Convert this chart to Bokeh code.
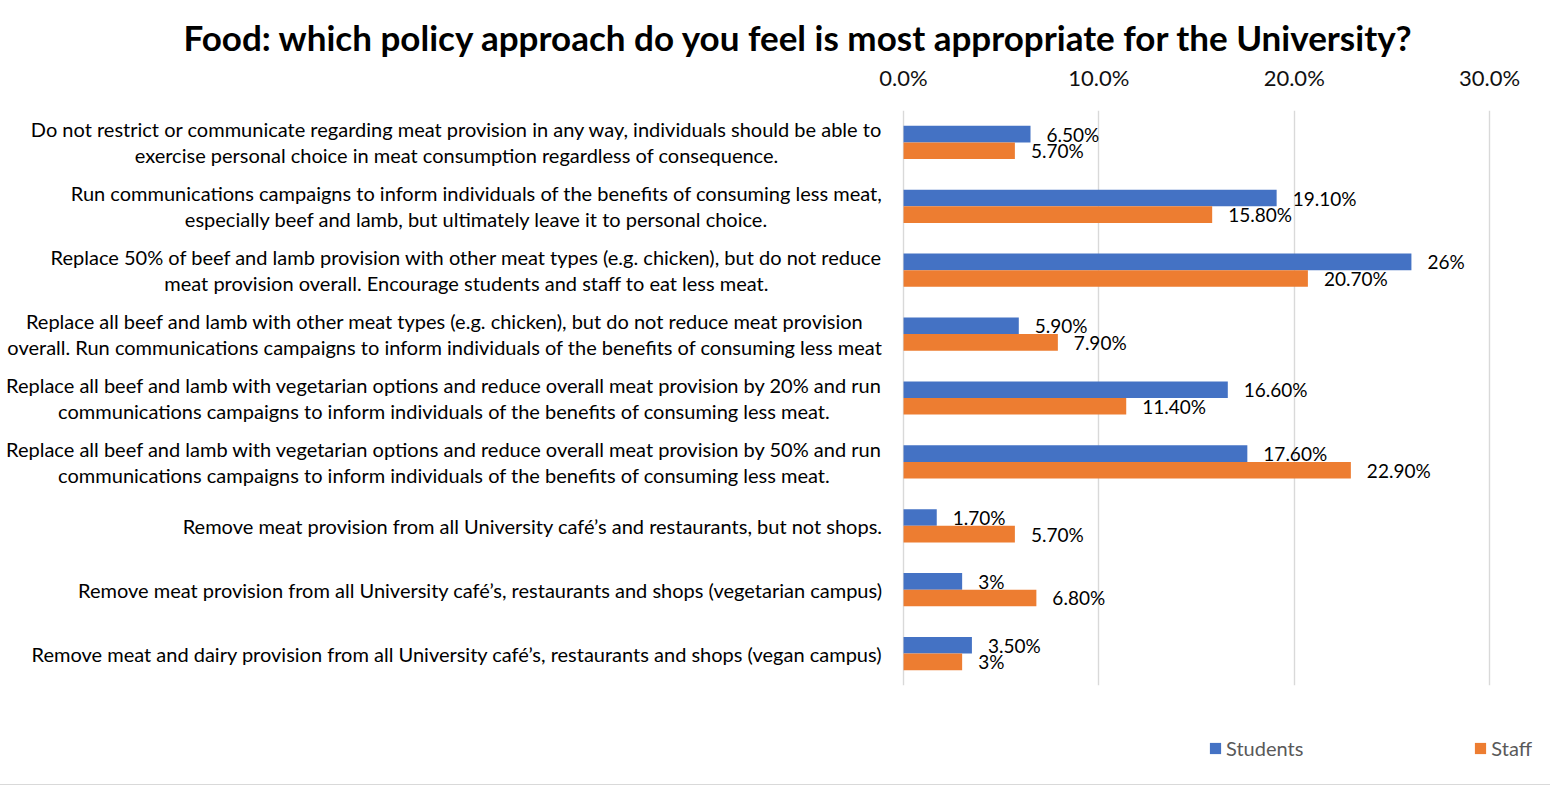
from bokeh.plotting import figure
from bokeh.layouts import column
from bokeh.models import Range1d, FactorRange, FixedTicker, ColumnDataSource, Legend, LegendItem, Title
from bokeh.transform import dodge
from bokeh.core.properties import value
from bokeh.embed import file_html
from bokeh.resources import INLINE

categories = [
    "Do not restrict or communicate regarding meat provision in any way, individuals should be able to\nexercise personal choice in meat consumption regardless of consequence.",
    "Run communications campaigns to inform individuals of the benefits of consuming less meat,\nespecially beef and lamb, but ultimately leave it to personal choice.",
    "Replace 50% of beef and lamb provision with other meat types (e.g. chicken), but do not reduce\nmeat provision overall. Encourage students and staff to eat less meat.",
    "Replace all beef and lamb with other meat types (e.g. chicken), but do not reduce meat provision\noverall. Run communications campaigns to inform individuals of the benefits of consuming less meat",
    "Replace all beef and lamb with vegetarian options and reduce overall meat provision by 20% and run\ncommunications campaigns to inform individuals of the benefits of consuming less meat.",
    "Replace all beef and lamb with vegetarian options and reduce overall meat provision by 50% and run\ncommunications campaigns to inform individuals of the benefits of consuming less meat.",
    "Remove meat provision from all University caf\u00e9\u2019s and restaurants, but not shops.",
    "Remove meat provision from all University caf\u00e9\u2019s, restaurants and shops (vegetarian campus)",
    "Remove meat and dairy provision from all University caf\u00e9\u2019s, restaurants and shops (vegan campus)",
]
students = [6.5, 19.1, 26.0, 5.9, 16.6, 17.6, 1.7, 3.0, 3.5]
staff = [5.7, 15.8, 20.7, 7.9, 11.4, 22.9, 5.7, 6.8, 3.0]
students_labels = ["6.50%", "19.10%", "26%", "5.90%", "16.60%", "17.60%", "1.70%", "3%", "3.50%"]
staff_labels = ["5.70%", "15.80%", "20.70%", "7.90%", "11.40%", "22.90%", "5.70%", "6.80%", "3%"]
tick_values = [0, 10, 20, 30]
tick_labels = ["0.0%", "10.0%", "20.0%", "30.0%"]
series_names = ["Students", "Staff"]
title_text = "Food: which policy approach do you feel is most appropriate for the University?"

BLUE = "#4472C4"
ORANGE = "#ED7D31"
FONT = "Lato"

src = ColumnDataSource(dict(cat=categories, students=students, staff=staff,
                            sl=students_labels, fl=staff_labels))

p = figure(width=1550, height=700, output_backend="svg", toolbar_location=None,
           x_range=Range1d(-46.23, 33.12),
           y_range=FactorRange(factors=categories[::-1], range_padding=0, factor_padding=0),
           x_axis_location="above", y_axis_location=None,
           min_border_left=0, min_border_right=0, min_border_top=110, min_border_bottom=15)
p.title = Title(text=title_text, align="left", offset=183, text_font_size="35px",
                text_font=FONT, text_font_style="bold", text_color="#000000", standoff=6)
p.outline_line_color = None
p.background_fill_color = "white"
p.border_fill_color = "white"

ax = p.xaxis[0]
ax.ticker = FixedTicker(ticks=tick_values)
ax.major_label_overrides = {t: l for t, l in zip(tick_values, tick_labels)}
ax.axis_line_color = None
ax.major_tick_line_color = None
ax.minor_tick_line_color = None
ax.major_label_standoff = 14
ax.major_label_text_font = FONT
ax.major_label_text_font_size = "22px"
ax.major_label_text_color = "#111111"

p.xgrid.grid_line_color = "#D9D9D9"
p.xgrid.grid_line_width = 1.4
p.ygrid.grid_line_color = None

ys = dodge("cat", 0.13, range=p.y_range)
yf = dodge("cat", -0.13, range=p.y_range)

p.hbar(y=ys, left=0, right="students", height=0.26, source=src,
       fill_color=BLUE, line_color=None)
p.hbar(y=yf, left=0, right="staff", height=0.26, source=src,
       fill_color=ORANGE, line_color=None)

p.text(x="students", y=ys, text="sl", source=src, x_offset=16, text_baseline="middle",
       text_align="left", text_font=value(FONT), text_font_size="19px", text_color="#000000")
p.text(x="staff", y=yf, text="fl", source=src, x_offset=16, text_baseline="middle",
       text_align="left", text_font=value(FONT), text_font_size="19px", text_color="#000000")

p.text(x=0, y="cat", text="cat", source=src, x_offset=-21, text_align="center",
       anchor="center_right", text_baseline="middle", text_line_height=1.083,
       text_font=value(FONT), text_font_size="20px", text_color="#000000")

# legend strip below the chart
p2 = figure(width=1550, height=85, output_backend="svg", toolbar_location=None,
            x_range=Range1d(0, 1), y_range=Range1d(0, 1),
            x_axis_location=None, y_axis_location=None,
            min_border_left=0, min_border_right=0, min_border_top=0, min_border_bottom=0,
            styles={"border-bottom": "1px solid #D9D9D9"})
p2.outline_line_color = None
p2.xgrid.grid_line_color = None
p2.ygrid.grid_line_color = None
l1 = p2.hbar(y=-10, left=0, right="students", height=0.26, source=src,
             fill_color=BLUE, line_color=None)
l2 = p2.hbar(y=-10, left=0, right="staff", height=0.26, source=src,
             fill_color=ORANGE, line_color=None)
legend = Legend(items=[LegendItem(label=series_names[0], renderers=[l1]),
                       LegendItem(label=series_names[1], renderers=[l2])],
                orientation="horizontal", location=(1208, 25), padding=0, margin=0,
                spacing=170, border_line_color=None, background_fill_alpha=0,
                glyph_width=14, glyph_height=14, label_standoff=4,
                label_text_font=FONT, label_text_font_size="20px", label_text_color="#595959")
p2.add_layout(legend)

layout = column(p, p2, spacing=0)
open("out.html", "w").write(file_html(layout, INLINE))
